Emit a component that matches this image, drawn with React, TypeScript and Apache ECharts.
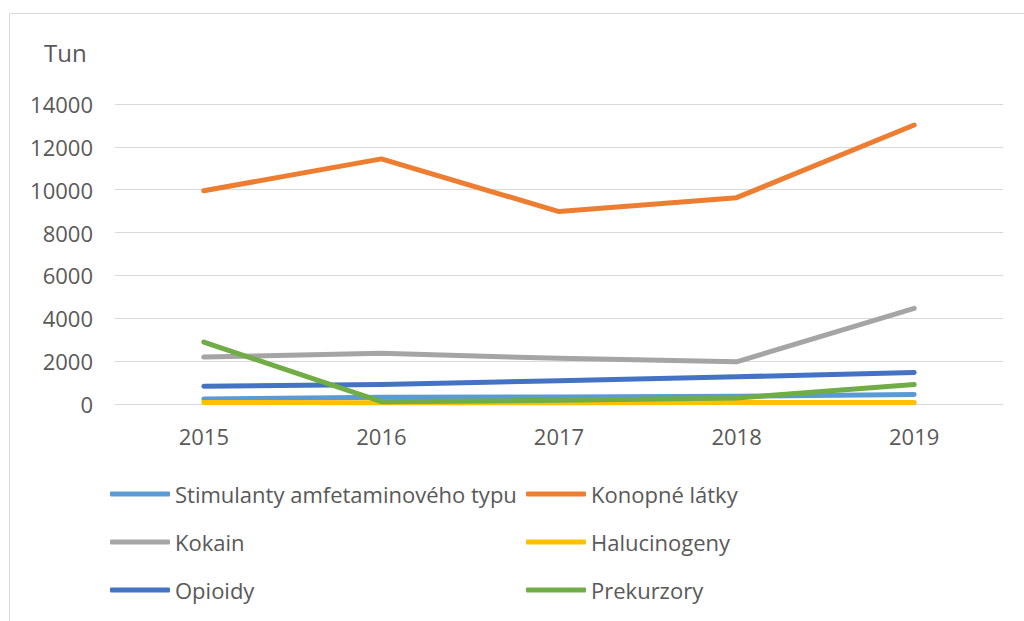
import React, { useEffect, useRef } from "react";
import * as echarts from "echarts";

const categories = ["2015", "2016", "2017", "2018", "2019"];
const stimulanty = [230, 310, 330, 360, 440];
const konopne = [9950, 11440, 8980, 9630, 13020];
const kokain = [2190, 2370, 2130, 1970, 4460];
const halucinogeny = [70, 60, 60, 70, 70];
const opioidy = [830, 910, 1090, 1270, 1470];
const prekurzory = [2890, 110, 170, 280, 910];
const yTicks = { min: 0, max: 14000, interval: 2000 };

const FONT = "'Open Sans', sans-serif";
const TXT = "#595959";

export default function App() {
  const ref = useRef<HTMLDivElement>(null);
  useEffect(() => {
    if (!ref.current) return;
    const chart = echarts.init(ref.current, undefined, { renderer: "svg" });
    const mk = (name: string, data: number[], color: string) => ({
      name,
      type: "line",
      data,
      symbol: "none",
      lineStyle: { width: 5, color, cap: "round", join: "round" },
      itemStyle: { color },
    });
    const legendCommon = {
      orient: "vertical",
      icon: "roundRect",
      itemWidth: 60,
      itemHeight: 5,
      itemGap: 26,
      padding: 0,
      textStyle: { fontFamily: FONT, fontSize: 22, color: TXT, lineHeight: 22 },
      selectedMode: false,
    };
    chart.setOption({
      animation: false,
      backgroundColor: "#ffffff",
      grid: { left: 115, right: 21, top: 104, bottom: 217, containLabel: false },
      xAxis: {
        type: "category",
        data: categories,
        boundaryGap: true,
        axisLine: { show: false },
        axisTick: { show: false },
        axisLabel: { fontFamily: FONT, fontSize: 22, color: TXT, margin: 21 },
      },
      yAxis: {
        type: "value",
        min: yTicks.min,
        max: yTicks.max,
        interval: yTicks.interval,
        axisLabel: {
          fontFamily: FONT,
          fontSize: 22,
          color: TXT,
          margin: 22,
          formatter: (v: number) => String(v),
        },
        splitLine: { lineStyle: { color: "#D9D9D9", width: 1 } },
        axisLine: { show: false },
        axisTick: { show: false },
      },
      legend: [
        {
          ...legendCommon,
          left: 110,
          top: 483,
          data: ["Stimulanty amfetaminového typu", "Kokain", "Opioidy"],
        },
        {
          ...legendCommon,
          left: 526,
          top: 483,
          data: ["Konopné látky", "Halucinogeny", "Prekurzory"],
        },
      ],
      graphic: [
        {
          type: "line",
          shape: { x1: 9.5, y1: 13.5, x2: 1024, y2: 13.5 },
          style: { stroke: "#D9D9D9", lineWidth: 1 },
        },
        {
          type: "line",
          shape: { x1: 9.5, y1: 13.5, x2: 9.5, y2: 621 },
          style: { stroke: "#D9D9D9", lineWidth: 1 },
        },
        {
          type: "text",
          left: 44,
          top: 40,
          style: { text: "Tun", fontFamily: FONT, fontSize: 24, fill: TXT },
        },
      ],
      series: [
        mk("Stimulanty amfetaminového typu", stimulanty, "#5B9BD5"),
        mk("Konopné látky", konopne, "#ED7D31"),
        mk("Kokain", kokain, "#A5A5A5"),
        mk("Halucinogeny", halucinogeny, "#FFC000"),
        mk("Opioidy", opioidy, "#4472C4"),
        mk("Prekurzory", prekurzory, "#70AD47"),
      ],
    });
    return () => chart.dispose();
  }, []);
  return (
    <div
      ref={ref}
      style={{ position: "fixed", left: 0, top: 0, width: 1024, height: 621 }}
    />
  );
}
